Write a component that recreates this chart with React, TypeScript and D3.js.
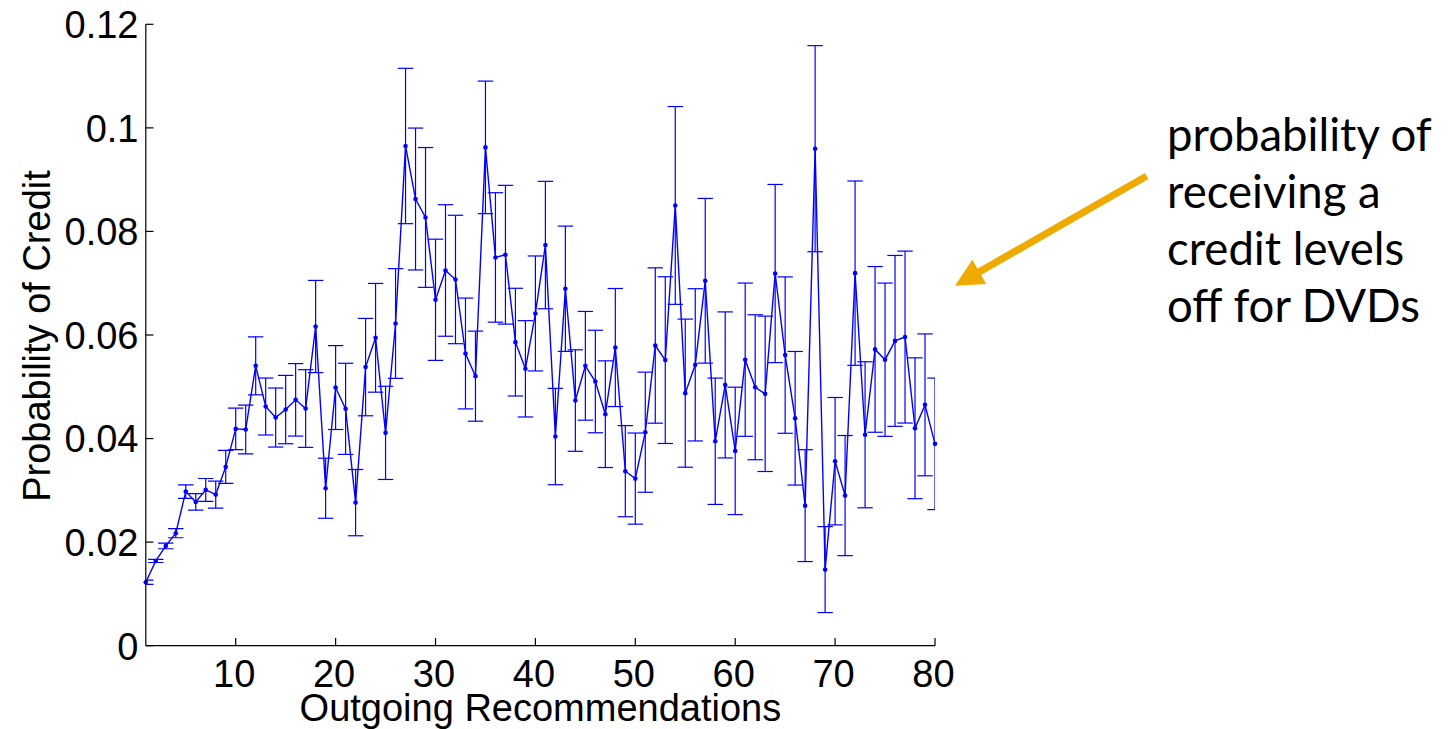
import React from "react";
import * as d3 from "d3";

const xs: number[] = d3.range(1, 81);
const values: number[] = [
  0.01225, 0.01637, 0.01927, 0.02172, 0.02976, 0.02777, 0.03009, 0.02918, 0.03453, 0.04187,
  0.04174, 0.05405, 0.04619, 0.04406, 0.0456, 0.04748, 0.0458, 0.06164, 0.03041, 0.04985,
  0.04574, 0.02763, 0.0538, 0.05946, 0.0411, 0.06222, 0.0965, 0.08626, 0.0827, 0.0668,
  0.07246, 0.07072, 0.05643, 0.05205, 0.09623, 0.07498, 0.0755, 0.05862, 0.05347, 0.06416,
  0.07737, 0.04039, 0.06893, 0.04734, 0.05405, 0.05102, 0.04471, 0.05758, 0.0337, 0.03227,
  0.04123, 0.05797, 0.05515, 0.08502, 0.04877, 0.05424, 0.07047, 0.03948, 0.05036, 0.03762,
  0.05523, 0.04991, 0.04864, 0.07187, 0.05612, 0.04392, 0.02705, 0.09598, 0.0147, 0.03563,
  0.02899, 0.07194, 0.04073, 0.05722, 0.05523, 0.05886, 0.0596, 0.04199, 0.04651, 0.03898,
];
const errors: number[] = [
  0.0004, 0.0003, 0.00055, 0.00087, 0.0013, 0.0016, 0.0022, 0.0026, 0.0032, 0.004,
  0.0047, 0.0056, 0.0055, 0.0057, 0.0066, 0.007, 0.0075, 0.0089, 0.0058, 0.0081,
  0.0088, 0.0064, 0.0094, 0.0105, 0.009, 0.0106, 0.015, 0.0137, 0.0135, 0.0117,
  0.0127, 0.0124, 0.0107, 0.0087, 0.0128, 0.0125, 0.0134, 0.0104, 0.0093, 0.0111,
  0.0123, 0.0093, 0.0121, 0.0098, 0.0105, 0.0099, 0.0103, 0.0114, 0.0088, 0.0088,
  0.0116, 0.015, 0.0161, 0.0191, 0.0143, 0.0147, 0.0159, 0.0122, 0.0141, 0.0123,
  0.0148, 0.014, 0.015, 0.0172, 0.0151, 0.0129, 0.0108, 0.0199, 0.0083, 0.0123,
  0.0116, 0.0178, 0.0141, 0.016, 0.0148, 0.0165, 0.0166, 0.0136, 0.0137, 0.0127,
];
const xTicks: number[] = [10, 20, 30, 40, 50, 60, 70, 80];
const yTicks: number[] = [0, 0.02, 0.04, 0.06, 0.08, 0.1, 0.12];
const yTickLabels: string[] = ["0", "0.02", "0.04", "0.06", "0.08", "0.1", "0.12"];
const xLabel = "Outgoing Recommendations";
const yLabel = "Probability of Credit";
const noteLines: string[] = ["probability of", "receiving a", "credit levels", "off for DVDs"];

export default function App() {
  const W = 1451, H = 729;
  const x = d3.scaleLinear().domain([1, 80]).range([145.8, 935]);
  const y = d3.scaleLinear().domain([0, 0.12]).range([645.7, 24.3]);
  const blue = "#0000ff";
  const capHalf = 7.7;
  const pts = xs.map((xv, i) => ({ x: xv, v: values[i], e: errors[i] }));
  const line = d3.line<{ x: number; v: number }>().x(d => x(d.x)).y(d => y(d.v));
  const font = "'Liberation Sans', Arial, Helvetica, sans-serif";

  // arrow geometry
  const sx = 1146.7, sy = 176, tx = 955, ty = 285.7;
  const dx = tx - sx, dy = ty - sy;
  const len = Math.hypot(dx, dy);
  const ux = dx / len, uy = dy / len;
  const nx = -uy, ny = ux;
  const headLen = 28, headHalf = 14, shaftHalf = 3.6;
  const bx = tx - ux * headLen, by = ty - uy * headLen;
  const arrowPts = [
    [sx + nx * shaftHalf, sy + ny * shaftHalf],
    [bx + nx * shaftHalf, by + ny * shaftHalf],
    [bx + nx * headHalf, by + ny * headHalf],
    [tx, ty],
    [bx - nx * headHalf, by - ny * headHalf],
    [bx - nx * shaftHalf, by - ny * shaftHalf],
    [sx - nx * shaftHalf, sy - ny * shaftHalf],
  ].map(p => p.join(",")).join(" ");

  return (
    <svg width={W} height={H} style={{ position: "absolute", left: 0, top: 0, background: "#fff" }}>
      <defs>
        <clipPath id="plotClip">
          <rect x={x(1)} y={0} width={x(80) - x(1)} height={H} />
        </clipPath>
      </defs>
      {/* error bars */}
      <g clipPath="url(#plotClip)" stroke={blue} strokeWidth={1.2} fill="none">
        {pts.map(d => (
          <g key={d.x}>
            <line x1={x(d.x)} x2={x(d.x)} y1={y(d.v - d.e)} y2={y(d.v + d.e)} />
            <line x1={x(d.x) - capHalf} x2={x(d.x) + capHalf} y1={y(d.v - d.e)} y2={y(d.v - d.e)} />
            <line x1={x(d.x) - capHalf} x2={x(d.x) + capHalf} y1={y(d.v + d.e)} y2={y(d.v + d.e)} />
          </g>
        ))}
      </g>
      {/* main line */}
      <path d={line(pts) || ""} fill="none" stroke={blue} strokeWidth={1.4} />
      {pts.map(d => (
        <circle key={"m" + d.x} cx={x(d.x)} cy={y(d.v)} r={2.3} fill={blue} />
      ))}
      {/* axes */}
      <g stroke="#000" strokeWidth={1.2}>
        <line x1={x(1)} x2={x(1)} y1={y(0.12)} y2={y(0)} />
        <line x1={x(1)} x2={x(80)} y1={y(0)} y2={y(0)} />
        {yTicks.map(t => (
          <line key={"yt" + t} x1={x(1)} x2={x(1) + 7.7} y1={y(t)} y2={y(t)} />
        ))}
        {xTicks.map(t => (
          <line key={"xt" + t} x1={x(t)} x2={x(t)} y1={y(0)} y2={y(0) - 7.7} />
        ))}
      </g>
      <g fontFamily={font} fontSize={38} fill="#000">
        {yTicks.map((t, i) => (
          <text key={"yl" + t} x={138.5} y={y(t)} dy={13.8} textAnchor="end">
            {yTickLabels[i]}
          </text>
        ))}
        {xTicks.map(t => (
          <text key={"xl" + t} x={x(t) - 1.5} y={687} textAnchor="middle">
            {String(t)}
          </text>
        ))}
        <text x={(x(1) + x(80)) / 2} y={721} textAnchor="middle">{xLabel}</text>
        <text transform="translate(49.5,336) rotate(-90)" textAnchor="middle">{yLabel}</text>
      </g>
      {/* annotation */}
      <polygon points={arrowPts} fill="#EFAA00" />
      <g fontFamily="Lato, 'Open Sans', sans-serif" fontSize={45.5} fill="#000">
        {noteLines.map((s, i) => (
          <text key={s} x={1167} y={150.7 + 57 * i}>{s}</text>
        ))}
      </g>
    </svg>
  );
}
